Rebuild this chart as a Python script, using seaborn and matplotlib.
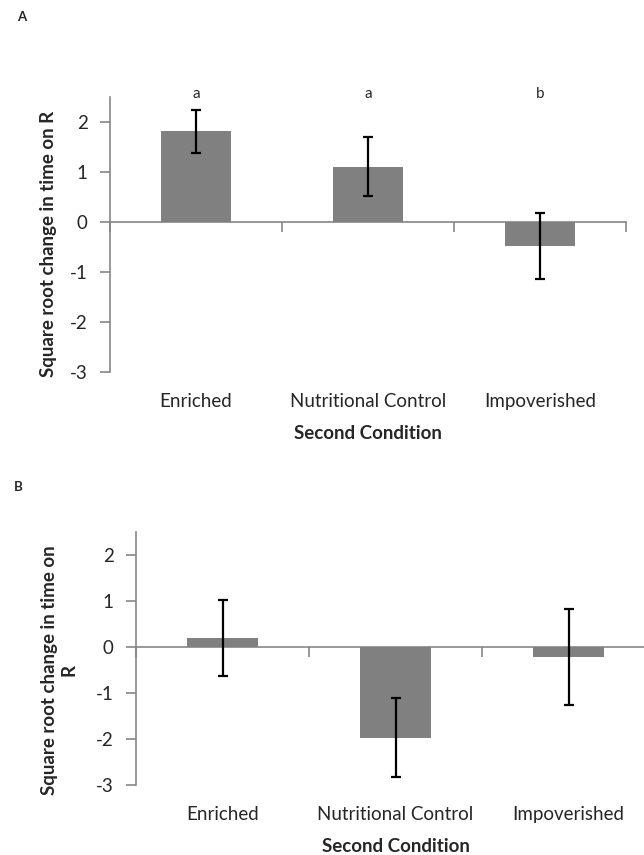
import numpy as np
import pandas as pd
import seaborn as sns
import matplotlib.pyplot as plt

# data
conditions = ['Enriched', 'Nutritional Control', 'Impoverished']
mean_a = [1.81, 1.10, -0.49]
err_a = [0.43, 0.59, 0.66]
letters_a = ['a', 'a', 'b']
mean_b = [0.20, -1.97, -0.22]
err_b = [0.83, 0.85, 1.05]
yticks = [-3, -2, -1, 0, 1, 2]

sns.set_style('white')
plt.rcParams['font.family'] = ['Lato', 'DejaVu Sans']
plt.rcParams['axes.unicode_minus'] = False

bar_col = '#808080'
axis_col = '#868686'


def panel(ax, means, errs, ylabel, label_x, label_y, letters=None):
    df = pd.DataFrame({'cond': conditions, 'val': means})
    sns.barplot(data=df, x='cond', y='val', color=bar_col, width=0.41,
                errorbar=None, saturation=1, linewidth=0, ax=ax)
    ax.errorbar(np.arange(len(conditions)), means, yerr=errs, fmt='none',
                ecolor='black', elinewidth=1.6, capsize=3.5, capthick=1.6)
    ax.set_xlim(-0.5, 2.5)
    ax.set_ylim(-3, 2.5)
    ax.set_yticks(yticks)
    ax.tick_params(axis='y', direction='out', length=7, width=1.2,
                   color=axis_col, labelsize=13.5, pad=9, left=True)
    ax.tick_params(axis='x', length=0, labelsize=13.5, pad=15)
    for s in ['top', 'right', 'bottom']:
        ax.spines[s].set_visible(False)
    ax.spines['left'].set_color(axis_col)
    ax.spines['left'].set_linewidth(1.2)
    # category axis drawn at zero, tick marks between categories
    sec = ax.secondary_xaxis(0, transform=ax.transData)
    sec.set_xticks([-0.5, 0.5, 1.5, 2.5])
    sec.tick_params(axis='x', direction='out', length=7, width=1.2,
                    color=axis_col, labelbottom=False)
    sec.spines['bottom'].set_color(axis_col)
    sec.spines['bottom'].set_linewidth(1.2)
    ax.set_xlabel('Second Condition', fontsize=13.5, fontweight='bold',
                  labelpad=11)
    ax.set_ylabel(ylabel, fontsize=13.5, fontweight='bold')
    ax.yaxis.set_label_coords(label_x, label_y)
    if letters:
        for i, t in enumerate(letters):
            ax.text(i, 2.55, t, ha='center', va='center', fontsize=11)


fig = plt.figure(figsize=(6.44, 8.55), dpi=100)
ax_a = fig.add_axes([0.1708, 0.565, 0.801, 0.3216])
ax_b = fig.add_axes([0.2112, 0.0819, 0.806, 0.296])

panel(ax_a, mean_a, err_a, 'Square root change in time on R', -0.103, 0.465,
      letters_a)
panel(ax_b, mean_b, err_b, 'Square root change in time on\nR', -0.112, 0.455)

fig.text(0.026, 0.980, 'A', fontsize=9.5, fontweight='bold', va='center')
fig.text(0.022, 0.430, 'B', fontsize=9.5, fontweight='bold', va='center')

fig.savefig('out.png', dpi=100)
